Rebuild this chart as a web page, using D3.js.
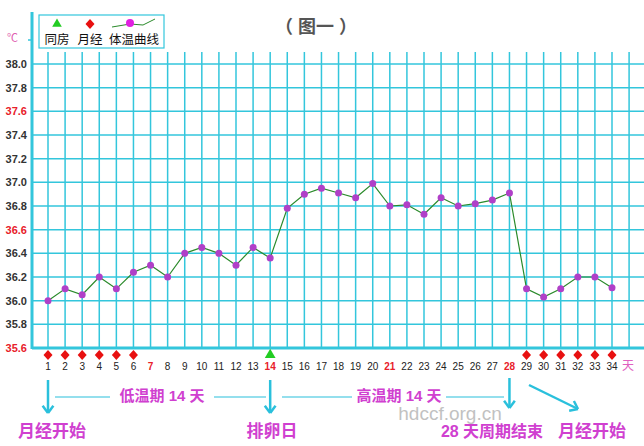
<!DOCTYPE html>
<html><head><meta charset="utf-8">
<script src="https://cdn.jsdelivr.net/npm/d3@7"></script>
<style>body{margin:0;background:#fff}svg{display:block}text{font-family:Arial,"Noto Sans CJK SC",sans-serif}</style>
</head><body><svg id="c" width="644" height="446"></svg>
<script>
const days = d3.range(1,35);
const temps = [36.0,36.1,36.05,36.2,36.1,36.24,36.3,36.2,36.4,36.45,36.4,36.3,36.45,36.36,36.78,36.9,36.95,36.91,36.87,36.99,36.8,36.81,36.73,36.87,36.8,36.82,36.85,36.91,36.1,36.03,36.1,36.2,36.2,36.11];
const yTicks = [35.6,35.8,36.0,36.2,36.4,36.6,36.8,37.0,37.2,37.4,37.6,37.8,38.0];
const redY = [35.6,36.6,37.6];
const redDays = [7,14,21,28];
const periodDays = [1,2,3,4,5,6,29,30,31,32,33,34];
const ovulationDay = 14;

const svg = d3.select("#c");
const x = d3.scaleLinear().domain([1,34]).range([48,612]);
const y = d3.scaleLinear().domain([35.6,38.0]).range([348,64]);
const cyan = "#33c6dc";
const g = svg.append("g");
d3.range(1,37).forEach(d=>{
  g.append("line").attr("x1",x(d)).attr("x2",x(d)).attr("y1",52).attr("y2",348).attr("stroke",cyan).attr("stroke-width",1.5);
});
yTicks.forEach(t=>{
  g.append("line").attr("x1",32).attr("x2",644).attr("y1",y(t)).attr("y2",y(t)).attr("stroke",cyan).attr("stroke-width",t===35.6?3:1.5);
  g.append("text").attr("x",27).attr("y",y(t)+4).attr("text-anchor","end").attr("font-size",11).attr("font-weight","bold")
   .attr("fill",redY.includes(t)?"#e8202a":"#333").text(t.toFixed(1));
});
g.append("line").attr("x1",32).attr("x2",32).attr("y1",12).attr("y2",349).attr("stroke",cyan).attr("stroke-width",3);
g.append("line").attr("x1",28).attr("x2",32).attr("y1",40).attr("y2",40).attr("stroke",cyan).attr("stroke-width",1.5);
svg.append("text").attr("x",7).attr("y",42).attr("font-size",11).attr("fill","#e060b0").text("℃");
days.forEach(d=>{
  svg.append("text").attr("x",x(d)).attr("y",370).attr("text-anchor","middle").attr("font-size",10)
   .attr("font-weight",redDays.includes(d)?"bold":"normal").attr("fill",redDays.includes(d)?"#e8202a":"#222").text(d);
});
svg.append("text").attr("x",628).attr("y",370).attr("text-anchor","middle").attr("font-size",12).attr("fill","#e060c0").text("天");
const dia = "M0,-5 L4.5,0 L0,5 L-4.5,0 Z";
periodDays.forEach(d=>{
  svg.append("path").attr("d",dia).attr("transform",`translate(${x(d)},355)`).attr("fill","#e81010");
});
svg.append("path").attr("d",d3.symbol(d3.symbolTriangle,50)()).attr("transform",`translate(${x(ovulationDay)},355)`).attr("fill","#22cc22");
const line = d3.line().x((d,i)=>x(days[i])).y(d=>y(d));
svg.append("path").attr("d",line(temps)).attr("fill","none").attr("stroke","#2a8a2a").attr("stroke-width",1.2);
svg.selectAll("circle.p").data(temps).join("circle").attr("cx",(d,i)=>x(days[i])).attr("cy",d=>y(d)).attr("r",3.5).attr("fill","#b040c8");
svg.append("rect").attr("x",39).attr("y",15).attr("width",125).attr("height",33).attr("fill","#fff").attr("stroke",cyan).attr("stroke-width",1.2);
svg.append("path").attr("d",d3.symbol(d3.symbolTriangle,40)()).attr("transform","translate(57,24)").attr("fill","#22cc22");
svg.append("path").attr("d",dia).attr("transform","translate(90,24)").attr("fill","#e81010");
svg.append("path").attr("d","M112,27 L130,24 L143,25 L155,19").attr("fill","none").attr("stroke","#2a8a2a");
svg.append("circle").attr("cx",130).attr("cy",23).attr("r",4).attr("fill","#e020e0");
[["同房",57],["月经",90],["体温曲线",134]].forEach(([t,cx])=>svg.append("text").attr("x",cx).attr("y",44).attr("text-anchor","middle").attr("font-size",12.5).attr("fill","#111").text(t));
svg.append("text").attr("x",316).attr("y",33).attr("text-anchor","middle").attr("font-size",18).attr("font-weight","bold").attr("fill","#555").text("（ 图一 ）");
const ac = "#2ac0dc", pc = "#d040d0";
function arrow(x1,y1,x2,y2){
  svg.append("line").attr("x1",x1).attr("y1",y1).attr("x2",x2).attr("y2",y2).attr("stroke",ac).attr("stroke-width",2.5);
  const a=Math.atan2(y2-y1,x2-x1), L=9;
  [a+2.5,a-2.5].forEach(b=>svg.append("line").attr("x1",x2).attr("y1",y2).attr("x2",x2+L*Math.cos(b)).attr("y2",y2+L*Math.sin(b)).attr("stroke",ac).attr("stroke-width",2.5));
}
arrow(x(1),380,x(1),413); arrow(x(14),380,x(14),413); arrow(x(28),378,x(28),408); arrow(529,385,578,409);
[[55,110],[214,266],[282,352],[446,504]].forEach(([a,b])=>svg.append("line").attr("x1",a).attr("x2",b).attr("y1",397).attr("y2",397).attr("stroke",ac).attr("stroke-width",1.2));
svg.append("text").attr("x",450).attr("y",420).attr("text-anchor","middle").attr("font-size",19).attr("fill","#999").attr("opacity",0.6).text("hdccf.org.cn");
const ann=[["低温期 14 天",162,401,15],["高温期 14 天",399,401,15],["月经开始",52,437,17],["排卵日",272,437,17],["28 天周期结束",492,437,16],["月经开始",592,437,17]];
ann.forEach(([t,cx,cy,fs])=>svg.append("text").attr("x",cx).attr("y",cy).attr("text-anchor","middle").attr("font-size",fs).attr("font-weight","bold").attr("font-family","'Noto Sans CJK SC',sans-serif").attr("fill",pc).text(t));
</script></body></html>
